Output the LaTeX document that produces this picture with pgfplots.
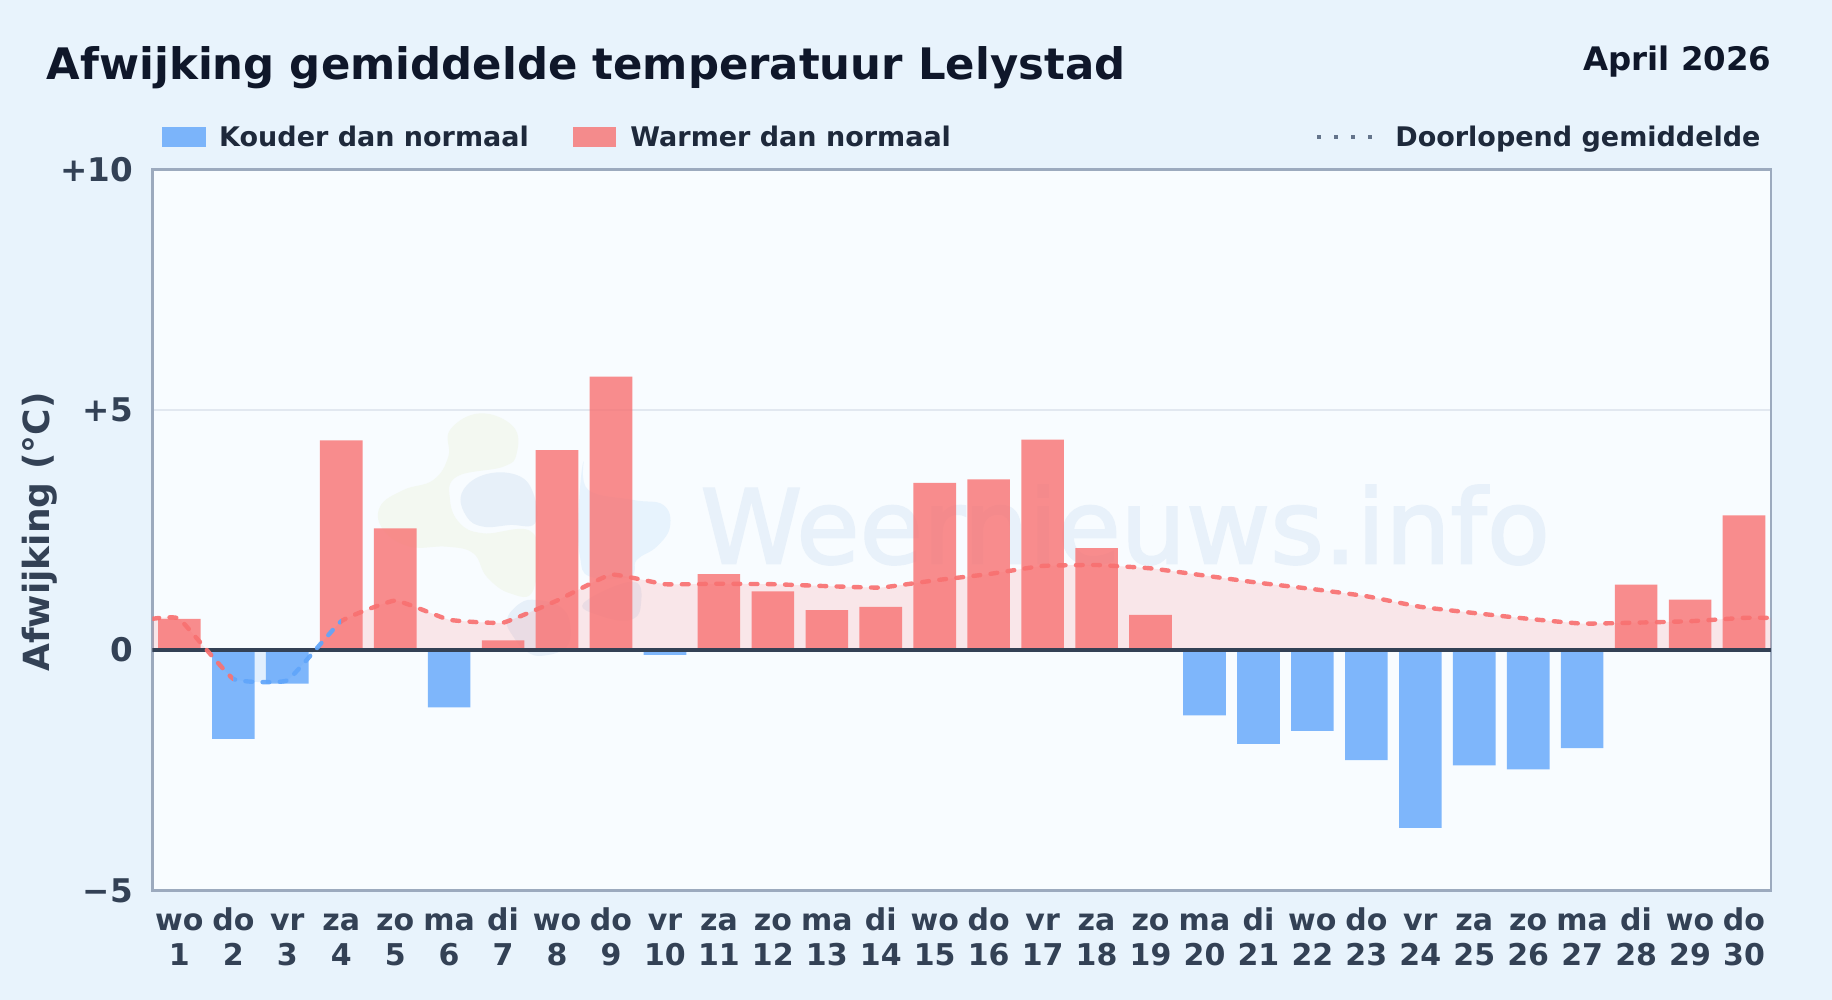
\documentclass[border=0pt]{standalone}
\usepackage{fontspec}
\setmainfont{DejaVu Sans}
\usepackage{pgfplots}
\pgfplotsset{compat=1.18}
\usepackage{pgfplotstable}

\definecolor{pagebg}{HTML}{E8F3FC}
\definecolor{plotbg}{HTML}{F8FCFF}
\definecolor{frame}{HTML}{9CAABE}
\definecolor{gridc}{HTML}{E2E8F0}
\definecolor{zeroc}{HTML}{334155}
\definecolor{titlec}{HTML}{0F172A}
\definecolor{legc}{HTML}{1E293B}
\definecolor{warm}{HTML}{F87171}
\definecolor{warmfill}{HTML}{FF7777}
\definecolor{cold}{HTML}{60A5FA}
\definecolor{dots}{HTML}{64748B}
\definecolor{wm}{HTML}{E8F1FA}
\definecolor{wmgreen}{HTML}{F3F8F1}
\definecolor{wmblue}{HTML}{E7F0F9}
\definecolor{wmsky}{HTML}{E7F3FD}
\newfontfamily\wmfont[FakeBold=2]{DejaVu Sans}

% daily deviation
\pgfplotstableread{
day val
1 0.65
4 4.36
5 2.53
7 0.20
8 4.16
9 5.69
11 1.58
12 1.22
13 0.83
14 0.90
15 3.48
16 3.55
17 4.38
18 2.12
19 0.73
28 1.36
29 1.05
30 2.80
}\warmdays
\pgfplotstableread{
day val
2 -1.85
3 -0.70
6 -1.19
10 -0.10
20 -1.36
21 -1.95
22 -1.68
23 -2.29
24 -3.70
25 -2.40
26 -2.48
27 -2.04
}\colddays
% running mean
\pgfplotstableread{
day val
0.5 0.65
1 0.65
2 -0.60
3 -0.63
4 0.60
5 1.03
6 0.63
7 0.57
8 1.03
9 1.57
10 1.37
11 1.38
12 1.37
13 1.33
14 1.30
15 1.45
16 1.58
17 1.75
18 1.77
19 1.70
20 1.55
21 1.40
22 1.27
23 1.12
24 0.90
25 0.77
26 0.65
27 0.55
28 0.57
29 0.60
30 0.67
30.5 0.67
}\runmean

\tikzset{meanline/.style={smooth, /tikz/tension=.2, no marks, line width=2.2pt, line cap=round,
  dash pattern=on 3.4pt off 5.2pt, opacity=.92}}
\newcommand{\dl}[2]{\rule{0pt}{11.5pt}#1\\#2}

\begin{document}
\begin{tikzpicture}[x=1pt,y=1pt]
\useasboundingbox (0,0) rectangle (916,500);
\fill[pagebg] (0,0) rectangle (916,500);
\fill[plotbg] (76.2,54.8) rectangle (885.5,415.3);

% watermark
\begin{scope}[shift={(185,305)},x=0.16667pt,y=-0.16667pt]
\fill[wmgreen] plot[smooth cycle,tension=.7] coordinates {(240,120) (330,70) (430,110) (440,190) (400,230) (260,260) (240,330) (270,400) (340,430) (490,430) (490,600) (420,610) (350,560) (310,490) (230,470) (120,470) (40,420) (30,350) (100,300) (190,270) (235,200)};
\fill[wmblue] plot[smooth cycle,tension=.7] coordinates {(275,310) (340,255) (440,255) (490,310) (495,400) (420,405) (340,410) (290,380)};
\fill[wmsky] plot[smooth cycle,tension=.7] coordinates {(640,215) (655,300) (790,330) (880,345) (900,410) (860,470) (800,510) (780,560) (660,560) (630,500) (625,380)};
\fill[wmblue] plot[smooth cycle,tension=.7] coordinates {(410,690) (450,640) (500,630) (570,650) (600,700) (590,770) (520,797) (470,785) (430,740)};
\fill[wmblue] plot[smooth cycle,tension=.7] coordinates {(790,575) (812,650) (780,690) (700,680) (640,640)};
\end{scope}
\node[anchor=west,inner sep=0pt,text=wm,font=\wmfont\fontsize{51.5}{52}\selectfont] at (350,237.5) {Weernieuws.info};

% title and legend
\node[anchor=base west,inner sep=0pt,text=titlec,font=\fontsize{21.7}{24}\bfseries\selectfont] at (23.2,460.3) {Afwijking gemiddelde temperatuur Lelystad};
\node[anchor=base east,inner sep=0pt,text=titlec,font=\fontsize{16.2}{18}\bfseries\selectfont] at (885.9,464.6) {April 2026};
\fill[cold,opacity=.8] (81.2,426.7) rectangle (103,436.5);
\node[anchor=base west,inner sep=0pt,text=legc,font=\fontsize{13.5}{16}\bfseries\selectfont] at (109.4,426.6) {Kouder dan normaal};
\fill[warm,opacity=.8] (286.5,426.7) rectangle (308.2,436.5);
\node[anchor=base west,inner sep=0pt,text=legc,font=\fontsize{13.5}{16}\bfseries\selectfont] at (315,426.6) {Warmer dan normaal};
\draw[dots,line width=2pt,dash pattern=on 2pt off 6.5pt] (658.5,431.7) -- (686,431.7);
\node[anchor=base west,inner sep=0pt,text=legc,font=\fontsize{13.5}{16}\bfseries\selectfont] at (697.5,426.6) {Doorlopend gemiddelde};

\begin{axis}[
  at={(76.2pt,54.8pt)},anchor=south west,
  scale only axis,width=809.3pt,height=360.5pt,
  xmin=0.5,xmax=30.5,ymin=-5,ymax=10,
  axis line style={draw=frame,line width=1.4pt},
  major tick length=0pt,
  ymajorgrids,grid style={draw=gridc,line width=.8pt},
  ytick={-5,0,5,10},
  yticklabels={−5,0,+5,+10},
  xtick={1,...,30},
  xticklabels={{\dl{wo}{1}},{\dl{do}{2}},{\dl{vr}{3}},{\dl{za}{4}},{\dl{zo}{5}},{\dl{ma}{6}},{\dl{di}{7}},{\dl{wo}{8}},{\dl{do}{9}},{\dl{vr}{10}},{\dl{za}{11}},{\dl{zo}{12}},{\dl{ma}{13}},{\dl{di}{14}},{\dl{wo}{15}},{\dl{do}{16}},{\dl{vr}{17}},{\dl{za}{18}},{\dl{zo}{19}},{\dl{ma}{20}},{\dl{di}{21}},{\dl{wo}{22}},{\dl{do}{23}},{\dl{vr}{24}},{\dl{za}{25}},{\dl{zo}{26}},{\dl{ma}{27}},{\dl{di}{28}},{\dl{wo}{29}},{\dl{do}{30}}},
  xticklabel style={align=center,anchor=north,inner sep=0pt,yshift=-8.5pt,text=zeroc,font=\fontsize{15}{17.5}\bfseries\selectfont},
  yticklabel style={anchor=east,inner sep=0pt,xshift=-9.5pt,text=zeroc,font=\fontsize{16.3}{18}\bfseries\selectfont},
  ylabel={Afwijking (°C)},
  every axis y label/.style={at={(axis description cs:-0.0695,0.497)},rotate=90,anchor=center,text=zeroc,font=\fontsize{18}{20}\bfseries\selectfont},
]
% shaded area between the running mean and zero
\begin{scope}
\clip (axis cs:0.5,0) rectangle (axis cs:30.5,10);
\addplot[smooth,/tikz/tension=.2,no marks,draw=none,fill=warmfill,fill opacity=.16] table[x=day,y=val] {\runmean} \closedcycle;
\end{scope}
\begin{scope}
\clip (axis cs:0.5,-5) rectangle (axis cs:30.5,0);
\addplot[smooth,/tikz/tension=.2,no marks,draw=none,fill=cold,fill opacity=.15] table[x=day,y=val] {\runmean} \closedcycle;
\end{scope}

\addplot[ybar,bar width=0.79,bar shift=0pt,draw=none,fill=warm,fill opacity=.8] table[x=day,y=val] {\warmdays};
\addplot[ybar,bar width=0.79,bar shift=0pt,draw=none,fill=cold,fill opacity=.8] table[x=day,y=val] {\colddays};

\draw[zeroc,line width=1.7pt] (axis cs:0.5,0) -- (axis cs:30.5,0);

% running mean: blue only on the segments that start below zero
\begin{scope}
\clip (axis cs:0.5,-5) rectangle (axis cs:2,10) (axis cs:4,-5) rectangle (axis cs:30.5,10);
\addplot[meanline,warm] table[x=day,y=val] {\runmean};
\end{scope}
\begin{scope}
\clip (axis cs:2,-5) rectangle (axis cs:4,10);
\addplot[meanline,cold] table[x=day,y=val] {\runmean};
\end{scope}
\end{axis}
\end{tikzpicture}
\end{document}
